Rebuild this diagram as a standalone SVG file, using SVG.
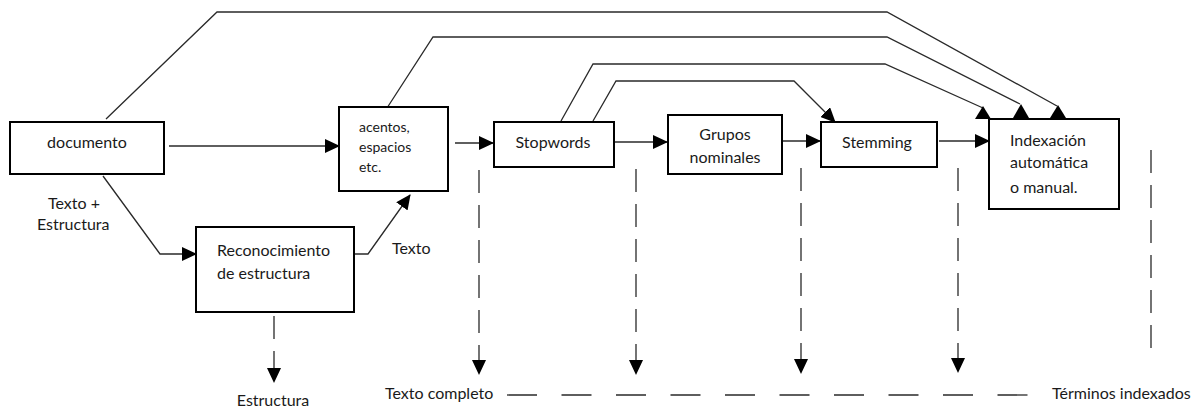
<svg xmlns="http://www.w3.org/2000/svg" width="1200" height="409" viewBox="0 0 1200 409">
<style>
.box{fill:#fff;stroke:#000;stroke-width:2}
.t{font-family:Lato,"Open Sans","Liberation Sans",sans-serif;font-size:16px;fill:#1a1a1a}
.s{font-size:14px}
.m{text-anchor:middle}
.c{fill:none;stroke:#2a2a2a;stroke-width:1.3}
.dv{stroke-dasharray:23 12}
.dh{stroke-dasharray:30 24.5}
.tri{fill:#000}
</style>
<defs>
<marker id="ah" markerUnits="userSpaceOnUse" markerWidth="15" markerHeight="14" refX="14" refY="7" orient="auto" viewBox="0 0 15 14">
<path d="M0,0 L15,7 L0,14 z" fill="#000"/>
</marker>
</defs>
<rect width="1200" height="409" fill="#fff"/>

<g id="connectors">
<line class="c" x1="169" y1="146" x2="339" y2="146" marker-end="url(#ah)"/>
<line class="c" x1="455" y1="143" x2="493" y2="143" marker-end="url(#ah)"/>
<line class="c" x1="614" y1="142" x2="667" y2="142" marker-end="url(#ah)"/>
<line class="c" x1="776" y1="141" x2="820" y2="141" marker-end="url(#ah)"/>
<line class="c" x1="939" y1="141" x2="989" y2="141" marker-end="url(#ah)"/>
<polyline class="c" points="103,176 160,254 196,254" marker-end="url(#ah)"/>
<polyline class="c" points="354,254 368,254 410,195" marker-end="url(#ah)"/>
<polyline class="c" points="106,119 217,12 887,12 1057,106"/>
<polyline class="c" points="387,108 433,37 887,37 1020,104"/>
<polyline class="c" points="561,121 593,64 885,64 983,108"/>
<polyline class="c" points="593,121 616,81 794,81 835,122" marker-end="url(#ah)"/>
<path class="tri" d="M983,106 L991,119 L975,119 z"/>
<path class="tri" d="M1021,104 L1029,118 L1013,118 z"/>
<path class="tri" d="M1058,105 L1066,118 L1050,118 z"/>
<line class="c dv" x1="274" y1="316" x2="274" y2="382" marker-end="url(#ah)"/>
<line class="c dv" x1="479" y1="170" x2="479" y2="374" marker-end="url(#ah)"/>
<line class="c dv" x1="636" y1="169" x2="636" y2="374" marker-end="url(#ah)"/>
<line class="c dv" x1="801" y1="168" x2="801" y2="373" marker-end="url(#ah)"/>
<line class="c dv" x1="958" y1="168" x2="958" y2="372" marker-end="url(#ah)"/>
<line class="c dv" x1="1151" y1="150" x2="1151" y2="352"/>
<line class="c dh" x1="507" y1="395" x2="1028" y2="395"/>
</g>

<g id="documento">
<rect class="box" x="10" y="122" width="154" height="52"/>
<text class="t m" x="87" y="148">documento</text>
</g>
<g id="acentos">
<rect class="box" x="339" y="107" width="109" height="84"/>
<text class="t s" x="359" y="132">acentos,</text>
<text class="t s" x="359" y="152">espacios</text>
<text class="t s" x="359" y="172">etc.</text>
</g>
<g id="stopwords">
<rect class="box" x="494" y="122" width="120" height="45"/>
<text class="t m" x="553" y="148">Stopwords</text>
</g>
<g id="grupos">
<rect class="box" x="668" y="115" width="114" height="59"/>
<text class="t m" x="725" y="140">Grupos</text>
<text class="t m" x="725" y="163">nominales</text>
</g>
<g id="stemming">
<rect class="box" x="821" y="122" width="116" height="45"/>
<text class="t m" x="877" y="148">Stemming</text>
</g>
<g id="indexacion">
<rect class="box" x="989" y="119" width="130" height="90"/>
<text class="t" x="1010" y="146">Indexación</text>
<text class="t" x="1010" y="168">automática</text>
<text class="t" x="1010" y="193">o manual.</text>
</g>
<g id="reconocimiento">
<rect class="box" x="196" y="227" width="158" height="85"/>
<text class="t" x="217" y="256">Reconocimiento</text>
<text class="t" x="217" y="279">de estructura</text>
</g>
<g id="labels">
<text class="t" x="48" y="209">Texto +</text>
<text class="t" x="37" y="230">Estructura</text>
<text class="t" x="392" y="254">Texto</text>
<text class="t m" x="273" y="406">Estructura</text>
<text class="t" x="385" y="399">Texto completo</text>
<text class="t" x="1052" y="399">Términos indexados</text>
</g>
</svg>
